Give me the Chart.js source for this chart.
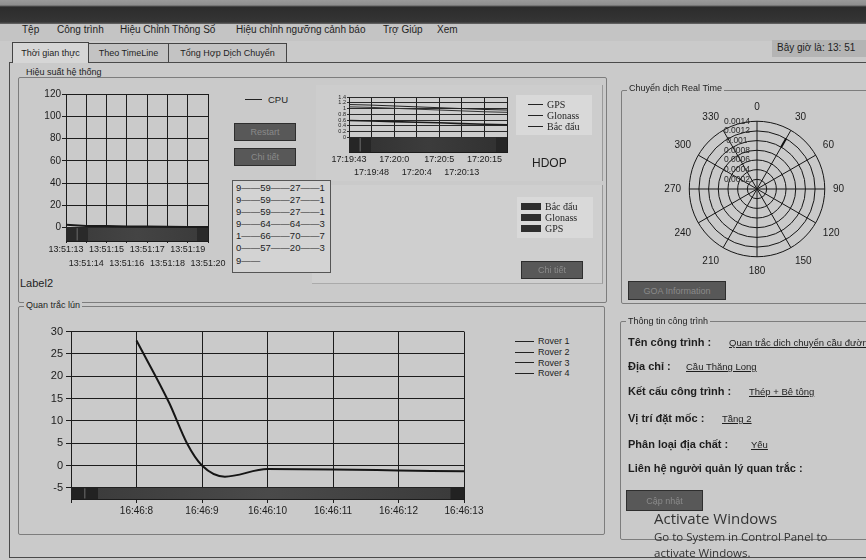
<!DOCTYPE html>
<html><head><meta charset="utf-8">
<script src="https://cdn.jsdelivr.net/npm/chart.js@4.4.0/dist/chart.umd.min.js"></script>
<style>
body{margin:0;width:866px;height:560px;overflow:hidden;background:#cacaca;font-family:"Liberation Sans",Arial,sans-serif;color:#1e1e1e;position:relative}
.a{position:absolute;white-space:nowrap;line-height:1}
.grp{position:absolute;border:1px solid #7d7d7d;border-radius:2px}
.gt{position:absolute;background:#cacaca;font-size:9px;padding:0 2px;line-height:1}
.btn{position:absolute;background:#585858;border:1px solid #2e2e2e;color:#8a8a8a;font-size:9px;display:flex;align-items:center;justify-content:center}
.tab{position:absolute;top:43px;height:18px;border:1px solid #444;border-bottom:none;font-size:9px;display:flex;align-items:center;justify-content:center;background:#c3c3c3}
canvas{position:absolute}
.lb{font-weight:bold;font-size:11px}
.lv{font-size:9.5px;text-decoration:underline}
.serif{font-family:"Liberation Serif","Times New Roman",serif}
</style></head><body>
<div class="a" style="left:0;top:0;width:866px;height:24px;background:linear-gradient(to bottom,#9a9a9a 0,#8e8e8e 5px,#2c2c2c 7px,#353535 22px,#6a6a6a 24px)"></div>
<div class="a" style="left:0;top:24px;width:866px;height:17px;background:#c4c4c4"></div>
<div class="a" style="left:22px;top:25px;font-size:10px">Tệp</div>
<div class="a" style="left:57px;top:25px;font-size:10px">Công trình</div>
<div class="a" style="left:120px;top:25px;font-size:10px">Hiệu Chỉnh Thông Số</div>
<div class="a" style="left:236px;top:25px;font-size:10px">Hiệu chỉnh ngưỡng cảnh báo</div>
<div class="a" style="left:383px;top:25px;font-size:10px">Trợ Giúp</div>
<div class="a" style="left:437px;top:25px;font-size:10px">Xem</div>

<div class="a" style="left:9px;top:62px;width:880px;height:494px;border:1px solid #4a4a4a"></div>
<div class="tab" style="left:12px;width:75px;background:#d6d6d6;height:20px;top:42px">Thời gian thực</div>
<div class="tab" style="left:88px;width:79px">Theo TimeLine</div>
<div class="tab" style="left:168px;width:117px">Tổng Hợp Dịch Chuyển</div>
<div class="a" style="left:772px;top:40px;width:94px;height:17px;background:#b4b4b4"></div>
<div class="a" style="left:777px;top:43px;font-size:10px">Bây giờ là: 13: 51</div>

<!-- group 1 -->
<div class="grp" style="left:18px;top:77px;width:587px;height:224px"></div>
<div class="gt" style="left:24px;top:68px">Hiệu suất hệ thống</div>
<div class="a" style="left:316px;top:85px;width:286px;height:96px;background:#cdcdcd;border-right:1px solid #9a9a9a"></div>
<div class="a" style="left:312px;top:185px;width:290px;height:98px;background:#cfcfcf;border-right:1px solid #9a9a9a;border-bottom:1px solid #aaa"></div>

<canvas id="cpu" width="208" height="184" style="left:20px;top:86px"></canvas>
<div class="a" style="left:245px;top:99px;width:17px;height:1px;background:#222"></div>
<div class="a" style="left:268px;top:95px;font-size:9.5px">CPU</div>
<div class="btn" style="left:234px;top:123px;width:60px;height:16px">Restart</div>
<div class="btn" style="left:234px;top:148px;width:60px;height:16px">Chi tiết</div>
<div class="a" style="left:232px;top:180px;width:97px;height:91px;background:#d3d3d3;border:1px solid #555"></div>
<div id="list" class="a" style="left:236px;top:182px;font-size:9.5px;line-height:12.1px;white-space:pre"></div>
<div class="a" style="left:20px;top:278px;font-size:11px">Label2</div>

<canvas id="hdop" width="207" height="88" style="left:320px;top:89px"></canvas>
<div class="a" style="left:516px;top:95px;width:76px;height:40px;background:#d9d9d9"></div>
<div id="hdopLegend" class="a serif" style="left:528px;top:99px;font-size:10px;line-height:11px"></div>
<div class="a" style="left:532px;top:157px;font-size:12px">HDOP</div>
<div class="a" style="left:517px;top:197px;width:76px;height:41px;background:#d9d9d9"></div>
<div id="barLegend" class="a serif" style="left:521px;top:201px;font-size:10px;line-height:11.2px"></div>
<div class="btn" style="left:521px;top:261px;width:60px;height:16px">Chi tiết</div>

<!-- group 2 -->
<div class="grp" style="left:621px;top:90px;width:260px;height:212px"></div>
<div class="gt" style="left:627px;top:84px">Chuyển dịch Real Time</div>
<canvas id="polar" width="220" height="176" style="left:647px;top:101px"></canvas>
<div class="btn" style="left:628px;top:281px;width:96px;height:17px">GOA Information</div>

<!-- group 3 -->
<div class="grp" style="left:18px;top:306px;width:585px;height:227px"></div>
<div class="gt" style="left:24px;top:301px">Quan trắc lún</div>
<canvas id="settle" width="472" height="203" style="left:22px;top:322px"></canvas>
<div id="roverLegend" class="a" style="left:515px;top:336px;font-size:9px;line-height:10.8px"></div>

<!-- group 4 -->
<div class="grp" style="left:620px;top:321px;width:260px;height:217px"></div>
<div class="gt" style="left:626px;top:317px">Thông tin công trình</div>
<div class="a lb" style="left:628px;top:337px">Tên công trình :</div>
<div class="a lv" style="left:729px;top:338px">Quan trắc dịch chuyển cầu đường</div>
<div class="a lb" style="left:628px;top:361px">Địa chỉ :</div>
<div class="a lv" style="left:686px;top:362px">Cầu Thăng Long</div>
<div class="a lb" style="left:628px;top:386px">Kết cấu công trình :</div>
<div class="a lv" style="left:749px;top:387px">Thép + Bê tông</div>
<div class="a lb" style="left:628px;top:413px">Vị trí đặt mốc :</div>
<div class="a lv" style="left:722px;top:414px">Tầng 2</div>
<div class="a lb" style="left:628px;top:439px">Phân loại địa chất :</div>
<div class="a lv" style="left:751px;top:440px">Yếu</div>
<div class="a lb" style="left:628px;top:463px">Liên hệ người quản lý quan trắc :</div>
<div class="btn" style="left:626px;top:490px;width:75px;height:19px">Cập nhật</div>

<div class="a" style="left:654px;top:511px;font-family:'Open Sans',sans-serif;font-size:15px;color:#333">Activate Windows</div>
<div class="a" style="left:654px;top:531px;font-family:'Open Sans',sans-serif;font-size:11.5px;color:#333">Go to System in Control Panel to</div>
<div class="a" style="left:654px;top:547px;font-family:'Open Sans',sans-serif;font-size:11.5px;color:#333">activate Windows.</div>

<script>
// ---------- data ----------
const cpuTimes = ['13:51:13','13:51:14','13:51:15','13:51:16','13:51:17','13:51:18','13:51:19','13:51:20'];
const cpuLoad = [2.5, 1.5, 1.5, 1, 1, 0.8, 0.5, 0.5];
const cpuTicks = [0, 20, 40, 60, 80, 100, 120];

const hdopTimes = ['17:19:43','17:19:48','17:20:0','17:20:4','17:20:5','17:20:13','17:20:15',''];
const hdopSeriesNames = ['GPS','Glonass','Bắc đẩu'];
const hdopGPS = [1.14, 1.12, 1.09, 1.06, 1.03, 1.0, 0.97, 0.95];
const hdopGlonass = [1.06, 1.04, 1.01, 0.98, 0.95, 0.92, 0.89, 0.87];
const hdopBeidou = [0.59, 0.57, 0.55, 0.53, 0.51, 0.48, 0.46, 0.44];
const hdopTicks = [0, 0.2, 0.4, 0.6, 0.8, 1, 1.2, 1.4];

const satBarNames = ['Bắc đẩu','Glonass','GPS'];

const listRows = ['9——59——27——1','9——59——27——1','9——59——27——1','9——64——64——3','1——66——70——7','0——57——20——3','9——'];

const compassAngles = ['0','30','60','90','120','150','180','210','240','270','300','330'];
const roverDisplacement = [null, 0.0011, null, null, null, null, null, null, null, null, null, null];

const roverNames = ['Rover 1','Rover 2','Rover 3','Rover 4'];
const settleSeconds = [8, 8.5, 8.77, 9, 9.35, 10, 11, 12, 13]; // 16:46:ss
const rover1 = [28, 14, 5, 0, -2.5, -0.8, -0.9, -1.1, -1.3];
const settleTicks = [-5, 0, 5, 10, 15, 20, 25, 30];
const settleTimeTicks = [7, 8, 9, 10, 11, 12, 13];

// ---------- html bits ----------
document.getElementById('list').textContent = listRows.join('\n');
document.getElementById('hdopLegend').innerHTML = hdopSeriesNames.map(n =>
  '<div style="display:flex;align-items:center;height:11px"><span style="display:inline-block;width:15px;height:1px;background:#222;margin-right:4px"></span>'+n+'</div>').join('');
document.getElementById('barLegend').innerHTML = satBarNames.map(n =>
  '<div style="display:flex;align-items:center;height:11.2px"><span style="display:inline-block;width:20px;height:7px;background:#2e2e2e;margin-right:4px"></span>'+n+'</div>').join('');
document.getElementById('roverLegend').innerHTML = roverNames.map(n =>
  '<div style="display:flex;align-items:center;height:10.8px"><span style="display:inline-block;width:19px;height:1px;background:#222;margin-right:4px"></span>'+n+'</div>').join('');

// ---------- chart helpers ----------
const FF = '"Liberation Sans", Arial, sans-serif';
const INK = '#1c1c1c';
Chart.defaults.animation = false;
Chart.defaults.font.family = FF;
Chart.defaults.color = INK;

const scrollBand = {
  id: 'scrollBand',
  beforeDatasetsDraw(chart, args, o) {
    if (!o || o.from === undefined) return;
    const {ctx, chartArea: a, scales: {y}} = chart;
    const top = y.getPixelForValue(o.from);
    const h = a.bottom - top;
    ctx.save();
    const g = ctx.createLinearGradient(a.left, 0, a.right, 0);
    g.addColorStop(0, o.c1); g.addColorStop(0.5, o.c2); g.addColorStop(1, o.c1);
    ctx.fillStyle = g;
    ctx.fillRect(a.left, top, a.right - a.left, h);
    ctx.fillStyle = o.btn;
    ctx.fillRect(a.left, top, o.bw, h);
    ctx.fillRect(a.right - o.bw * 0.5, top, o.bw * 0.5, h);
    ctx.strokeStyle = '#555';
    ctx.strokeRect(a.left + o.bw / 2, top + 1, 0.5, h - 2);
    ctx.restore();
  }
};

function stagger(labels) {
  return (v, i) => (i % 2 === 0 ? labels[i] : ['', labels[i]]);
}
const fixedTicks = arr => s => { s.ticks = arr.map(v => ({ value: v })); };

// ---------- CPU chart ----------
new Chart(document.getElementById('cpu'), {
  type: 'line',
  data: { labels: cpuTimes, datasets: [{ label: 'CPU', data: cpuLoad, borderColor: '#1a1a1a', borderWidth: 2, pointRadius: 0, tension: 0 }] },
  plugins: [scrollBand],
  options: {
    responsive: false,
    layout: { padding: { top: 8, right: 20, left: 0, bottom: 0 } },
    plugins: { legend: { display: false }, tooltip: { enabled: false },
      scrollBand: { from: 0, c1: '#3a3a3a', c2: '#444', btn: '#2a2a2a', bw: 22 } },
    scales: {
      x: { offset: false, grid: { color: INK, tickLength: 2 }, border: { color: INK },
        ticks: { autoSkip: false, maxRotation: 0, padding: 0, font: { size: 9, lineHeight: 1.5 }, callback: stagger(cpuTimes) },
        afterFit: s => { s.height = 29; } },
      y: { min: -12, max: 120, grid: { color: INK, tickLength: 4 }, border: { color: INK },
        ticks: { autoSkip: false, padding: 1, font: { size: 10 } },
        afterBuildTicks: fixedTicks(cpuTicks),
        afterFit: s => { s.width = 46; } }
    }
  }
});

// ---------- HDOP chart ----------
new Chart(document.getElementById('hdop'), {
  type: 'line',
  data: { labels: hdopTimes, datasets: [
    { label: hdopSeriesNames[0], data: hdopGPS, borderColor: '#222', borderWidth: 1, pointRadius: 0 },
    { label: hdopSeriesNames[1], data: hdopGlonass, borderColor: '#333', borderWidth: 1, pointRadius: 0 },
    { label: hdopSeriesNames[2], data: hdopBeidou, borderColor: '#1a1a1a', borderWidth: 1.6, pointRadius: 0 }
  ] },
  plugins: [scrollBand],
  options: {
    responsive: false,
    layout: { padding: { top: 8, right: 20, left: 0, bottom: 0 } },
    plugins: { legend: { display: false }, tooltip: { enabled: false },
      scrollBand: { from: 0, c1: '#303030', c2: '#3c3c3c', btn: '#262626', bw: 22 } },
    scales: {
      x: { offset: false, grid: { color: INK, tickLength: 1 }, border: { color: INK },
        ticks: { autoSkip: false, maxRotation: 0, padding: 0, font: { size: 9, lineHeight: 1.45 }, callback: stagger(hdopTimes) },
        afterFit: s => { s.height = 25; } },
      y: { min: -0.5, max: 1.4, grid: { color: '#2a2a2a', tickLength: 2 }, border: { color: INK },
        ticks: { autoSkip: false, padding: 1, font: { size: 5.5 }, callback: v => String(parseFloat(v.toFixed(1))) },
        afterBuildTicks: fixedTicks(hdopTicks),
        afterFit: s => { s.width = 29; } }
    }
  }
});

// ---------- polar chart ----------
new Chart(document.getElementById('polar'), {
  type: 'radar',
  data: { labels: compassAngles, datasets: [{ label: 'Rover', data: roverDisplacement, showLine: false,
    pointStyle: 'line', pointRadius: 5, pointBorderWidth: 2, pointBorderColor: '#111', pointRotation: -60, borderWidth: 0 }] },
  options: {
    responsive: false,
    plugins: { legend: { display: false }, tooltip: { enabled: false } },
    scales: { r: { min: 0, max: 0.0014, beginAtZero: true,
      grid: { circular: true, color: '#151515' }, angleLines: { color: '#151515' },
      pointLabels: { font: { size: 10 }, color: INK, padding: 2 },
      ticks: { stepSize: 0.0002, showLabelBackdrop: false, color: '#2a2a2a', font: { size: 8.5 },
        callback: v => String(parseFloat(v.toFixed(4))) + ' '.repeat(17) } } }
  }
});

// ---------- settlement chart ----------
new Chart(document.getElementById('settle'), {
  type: 'line',
  data: { datasets: [
    { label: roverNames[0], data: settleSeconds.map((s, i) => ({ x: s, y: rover1[i] })), borderColor: '#151515', borderWidth: 2, pointRadius: 0, cubicInterpolationMode: 'monotone' },
    { label: roverNames[1], data: [], borderColor: '#222' },
    { label: roverNames[2], data: [], borderColor: '#222' },
    { label: roverNames[3], data: [], borderColor: '#222' }
  ] },
  plugins: [scrollBand],
  options: {
    responsive: false,
    layout: { padding: { top: 7.5, right: 30, left: 0, bottom: 0 } },
    plugins: { legend: { display: false }, tooltip: { enabled: false },
      scrollBand: { from: -5, c1: '#3a3a3a', c2: '#4a4a4a', btn: '#222', bw: 27 } },
    scales: {
      x: { type: 'linear', min: 7, max: 13, grid: { color: INK, tickLength: 4 }, border: { color: INK },
        ticks: { padding: 2, font: { size: 10 }, maxRotation: 0, autoSkip: false,
          callback: v => (v === 7 ? '' : '16:46:' + v) },
        afterBuildTicks: fixedTicks(settleTimeTicks),
        afterFit: s => { s.height = 26; } },
      y: { min: -7.5, max: 30, grid: { color: INK, tickLength: 5 }, border: { color: INK },
        ticks: { autoSkip: false, padding: 3, font: { size: 11 } },
        afterBuildTicks: fixedTicks(settleTicks),
        afterFit: s => { s.width = 49; } }
    }
  }
});
</script>
</body></html>
